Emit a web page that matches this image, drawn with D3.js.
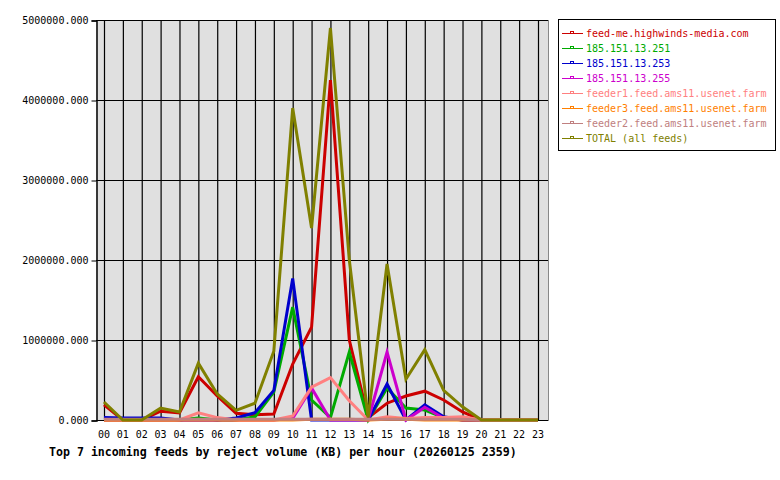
<!DOCTYPE html>
<html>
<head>
<meta charset="utf-8">
<script src="https://cdn.jsdelivr.net/npm/d3@7"></script>
<style>
  body { margin: 0; background: #fff; }
  text { font-family: "DejaVu Sans Mono", monospace; }
</style>
</head>
<body>
<div id="chart"></div>
<script>
// hourly reject volume (KB)
const hours = ["00","01","02","03","04","05","06","07","08","09","10","11",
  "12","13","14","15","16","17","18","19","20","21","22","23"];
const feedNames = ["feed-me.highwinds-media.com", "185.151.13.251", "185.151.13.253",
  "185.151.13.255", "feeder1.feed.ams11.usenet.farm", "feeder3.feed.ams11.usenet.farm",
  "feeder2.feed.ams11.usenet.farm", "TOTAL (all feeds)"];
const feedColors = ["#cc0000", "#00aa00", "#0000cc", "#cc00cc", "#ff8080", "#ff8000", "#c08080", "#808000"];

const highwinds = [190000,0,0,110000,90000,540000,300000,85000,65000,75000,700000,1160000,
  4250000,1000000,30000,210000,300000,360000,250000,100000,0,0,0,0];
const ip251 = [0,0,0,0,0,25000,0,0,40000,350000,1410000,250000,
  30000,850000,0,400000,150000,125000,30000,0,0,0,0,0];
const ip253 = [30000,25000,25000,25000,0,0,0,25000,90000,370000,1770000,0,
  0,0,0,450000,0,190000,40000,0,0,0,0,0];
const ip255 = [0,0,0,0,0,0,0,0,0,0,20000,400000,
  0,0,0,850000,0,160000,20000,0,0,0,0,0];
const feeder1 = [0,0,0,0,0,90000,30000,0,0,0,50000,410000,
  530000,240000,0,40000,20000,30000,30000,40000,0,0,0,0];
const feeder3 = [0,0,0,0,0,0,0,0,0,0,0,10000,
  10000,10000,0,10000,10000,0,0,0,0,0,0,0];
const feeder2 = [8000,8000,8000,8000,8000,8000,8000,8000,8000,8000,8000,8000,
  8000,8000,8000,8000,8000,8000,8000,8000,0,0,0,0];
const total = [225000,0,0,150000,100000,710000,325000,120000,210000,860000,3900000,2400000,
  4900000,2000000,30000,1950000,510000,880000,370000,165000,0,0,0,0];

const yTicks = [0, 1000000, 2000000, 3000000, 4000000, 5000000];
const chartTitle = "Top 7 incoming feeds by reject volume (KB) per hour (20260125 2359)";

const series = [highwinds, ip251, ip253, ip255, feeder1, feeder3, feeder2, total];

const W = 780, H = 480;
const plot = { left: 96, right: 548, top: 20, bottom: 421 };

const svg = d3.select("#chart").append("svg")
  .attr("width", W).attr("height", H);

const x = d3.scalePoint().domain(hours).range([104, 538]);
const y = d3.scaleLinear().domain([0, 5000000]).range([420, 20]);

svg.append("rect")
  .attr("x", plot.left).attr("y", plot.top)
  .attr("width", plot.right - plot.left).attr("height", plot.bottom - plot.top)
  .attr("fill", "#e0e0e0");

// grid
svg.append("g").selectAll("line.v").data(hours).join("line")
  .attr("x1", d => x(d) + 0.5).attr("x2", d => x(d) + 0.5)
  .attr("y1", plot.top).attr("y2", plot.bottom)
  .attr("stroke", "#000").attr("stroke-width", 1.2);
svg.append("g").selectAll("line.h").data(yTicks).join("line")
  .attr("x1", plot.left).attr("x2", plot.right)
  .attr("y1", d => y(d) + 0.5).attr("y2", d => y(d) + 0.5)
  .attr("stroke", "#000").attr("stroke-width", 1.2);

// left axis
const yAxis = d3.axisLeft(y).tickValues(yTicks).tickSize(5).tickPadding(3)
  .tickFormat(d => d3.format(".3f")(d));
svg.append("g").attr("transform", `translate(${plot.left + 0.5},0.5)`).call(yAxis)
  .call(g => g.select(".domain").attr("stroke-width", 1.5))
  .call(g => g.selectAll("text").attr("font-size", "10px")
    .attr("font-family", "'DejaVu Sans Mono', monospace").attr("fill", "#000"));

// right border
svg.append("line").attr("x1", plot.right + 0.5).attr("x2", plot.right + 0.5)
  .attr("y1", plot.top).attr("y2", plot.bottom).attr("stroke", "#888");

// hour labels
svg.append("g").selectAll("text").data(hours).join("text")
  .attr("x", d => x(d)).attr("y", 438)
  .attr("text-anchor", "middle").attr("font-size", "10px").text(d => d);

// lines
const line = d3.line().x((d, i) => x(hours[i])).y(d => y(d));
svg.append("g").selectAll("path").data(series).join("path")
  .attr("d", line)
  .attr("fill", "none")
  .attr("stroke", (d, i) => feedColors[i])
  .attr("stroke-width", 3)
  .attr("stroke-linejoin", "miter");

// title
svg.append("text").attr("x", 49).attr("y", 456)
  .attr("font-size", "11.6px").attr("font-weight", "bold").text(chartTitle);

// legend
const lg = svg.append("g");
lg.append("rect").attr("x", 558.5).attr("y", 19.5).attr("width", 217).attr("height", 131)
  .attr("fill", "#fff").attr("stroke", "#000");
const items = lg.selectAll("g").data(feedNames).join("g")
  .attr("transform", (d, i) => `translate(0,${33 + i * 15})`);
items.append("line").attr("x1", 562).attr("x2", 583).attr("y1", 0.5).attr("y2", 0.5)
  .attr("stroke", (d, i) => feedColors[i]);
items.append("rect").attr("x", 570.5).attr("y", -1.5).attr("width", 3).attr("height", 2)
  .attr("fill", "none").attr("stroke", (d, i) => feedColors[i]).attr("stroke-width", 1);
items.append("text").attr("x", 586).attr("y", 4)
  .attr("font-size", "10px").attr("fill", (d, i) => feedColors[i]).text(d => d);
</script>
</body>
</html>
